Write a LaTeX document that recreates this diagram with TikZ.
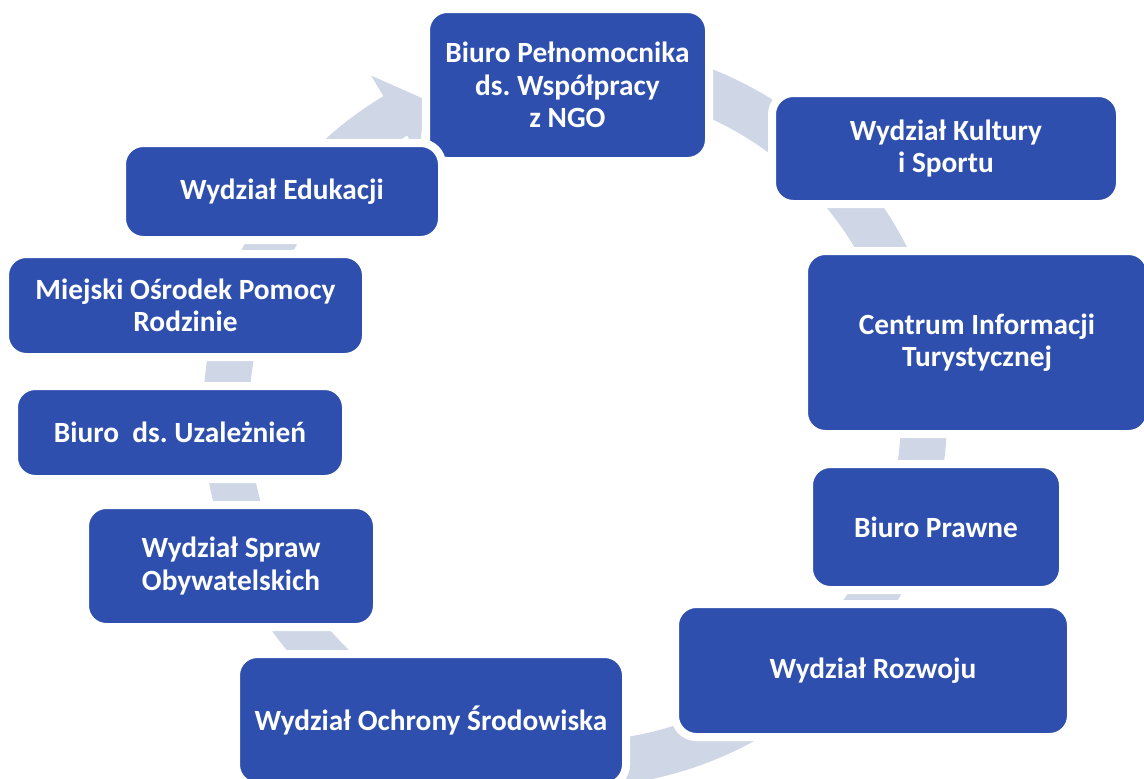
\documentclass[tikz,border=0pt]{standalone}
\usepackage{fontspec}
\setmainfont{Carlito}
\frenchspacing
\usetikzlibrary{calc}
\definecolor{boxblue}{RGB}{46,79,174}
\definecolor{ringgrey}{RGB}{207,214,230}
\begin{document}
\begin{tikzpicture}[x=0.75pt,y=-0.75pt,
  unit/.style={fill=boxblue,draw=white,line width=6pt,rounded corners=16pt,
    text=white,align=center,inner sep=0pt,
    font=\fontsize{22}{24.4}\selectfont\bfseries},
  wh/.style 2 args={minimum width=#1*0.75pt+6pt,minimum height=#2*0.75pt+6pt}]
\useasboundingbox (0,0) rectangle (1144,778);

% ring arrow behind the boxes
\coordinate (c) at (575,415);
\fill[ringgrey] ($(c)+(-75:372)$) arc[start angle=-75,end angle=239,radius=372]
  -- ($(c)+(239:396)$) -- ($(c)+(244.5:350)$) -- ($(c)+(239:302)$)
  -- ($(c)+(239:326)$) arc[start angle=239,end angle=-75,radius=326] -- cycle;

% boxes
\path
(567.5,85) node[unit,wh={275}{144}](1){Biuro Pełnomocnika\\ds. Współpracy\\z NGO}
(946,148.5) node[unit,wh={340}{103}](2){Wydział Kultury\\i Sportu}
(977,342.5) node[unit,wh={338}{175}](3){Centrum Informacji\\Turystycznej}
(936,527) node[unit,wh={246}{118}](4){Biuro Prawne}
(873,670.5) node[unit,wh={388}{125}](5){Wydział Rozwoju}
(431,720) node[unit,wh={382}{124}](6){Wydział Ochrony Środowiska}
(231,566) node[unit,wh={284}{114}](7){Wydział Spraw\\Obywatelskich}
(180,432.5) node[unit,wh={324}{85}](8){Biuro\ \ ds. Uzależnień}
(185.5,305.5) node[unit,wh={353}{95}](9){Miejski Ośrodek Pomocy\\Rodzinie}
(282,191.5) node[unit,wh={312}{89}](10){Wydział Edukacji};
\end{tikzpicture}
\end{document}
